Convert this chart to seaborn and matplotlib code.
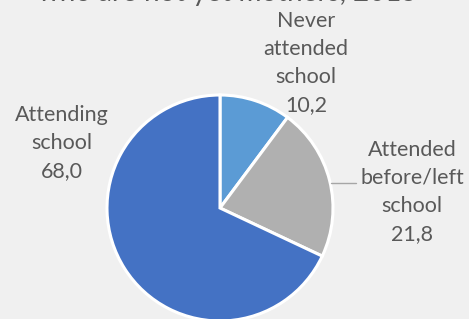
import matplotlib
matplotlib.use("Agg")
import matplotlib.pyplot as plt
import seaborn as sns

sns.set_theme(style="white")
plt.rcParams["font.family"] = ["Lato", "DejaVu Sans"]

# data
categories = ["Never\nattended\nschool", "Attended\nbefore/left\nschool", "Attending\nschool"]
values = [10.2, 21.8, 68.0]
value_labels = ["10,2", "21,8", "68,0"]
colors = ["#5B9BD5", "#B0B0B0", "#4472C4"]

bg = "#F0F0F0"
txt = "#595959"

fig = plt.figure(figsize=(4.69, 3.19), dpi=100, facecolor=bg)
ax = fig.add_axes([0, 0, 1, 1])
ax.set_facecolor(bg)

# pie centre in pixel space ~ (220, 208), radius ~113
cx, cy, r = 220, 319 - 208, 113
wedges, _ = ax.pie(values, colors=colors, startangle=90, counterclock=False,
                   radius=r, center=(cx, cy),
                   wedgeprops=dict(edgecolor="white", linewidth=2.2))
ax.set_xlim(0, 469)
ax.set_ylim(0, 319)
ax.set_aspect("equal")
ax.axis("off")

# labels
label_pos = [(306, 319 - 63), (412, 319 - 192), (62, 319 - 143)]
for (x, y), cat, val in zip(label_pos, categories, value_labels):
    ax.text(x, y, cat + "\n" + val, ha="center", va="center", color=txt,
            fontsize=15.5, linespacing=1.5)

# leader line for the grey slice
ax.plot([331, 356], [319 - 183, 319 - 183], color="#A6A6A6", lw=1)

# title, mostly cut off at the top edge
ax.text(228, 319 - 1.5, "who are not yet mothers, 2015", ha="center", va="baseline",
        color=txt, fontsize=20, clip_on=False)

fig.savefig("out.png", dpi=100, facecolor=bg)
